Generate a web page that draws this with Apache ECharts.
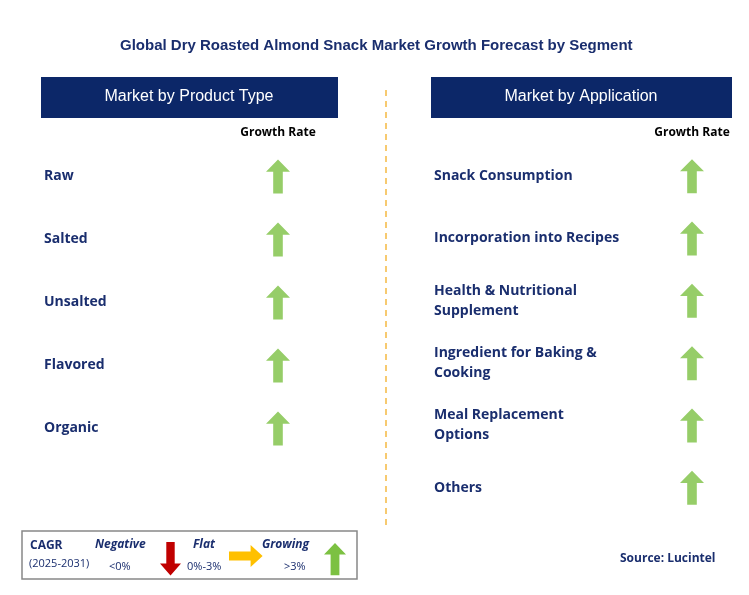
<!DOCTYPE html>
<html><head><meta charset="utf-8">
<script src="https://cdn.jsdelivr.net/npm/echarts@6/dist/echarts.min.js"></script>
<style>html,body{margin:0;padding:0;background:#fff}#c{width:749px;height:595px}</style>
</head><body><div id="c"></div>
<script>
const productTypes = ['Raw','Salted','Unsalted','Flavored','Organic'];
const productTrend = ['Growing','Growing','Growing','Growing','Growing'];
const applications = ['Snack Consumption','Incorporation into Recipes','Health & Nutritional\nSupplement','Ingredient for Baking &\nCooking','Meal Replacement\nOptions','Others'];
const applicationTrend = ['Growing','Growing','Growing','Growing','Growing','Growing'];
const columnLabel = ['Growth Rate'];

const NAVY = '#0c2768', TXT = '#1a2e6e', GREEN = '#7cc142';
const up = 'path://M5,0 L10,5 L7,5 L7,14 L3,14 L3,5 L0,5 Z';
const down = 'path://M3,0 L7,0 L7,9 L10,9 L5,14 L0,9 L3,9 Z';
const right = 'path://M0,3 L9,3 L9,0 L14,5 L9,10 L9,7 L0,7 Z';
const sym = {Growing: up, Negative: down, Flat: right};
const col = {Growing: GREEN, Negative: '#c00000', Flat: '#ffc000'};

function yAx(idx, cats, margin){
  return {gridIndex: idx, type:'category', data:cats, inverse:true,
    axisLine:{show:false}, axisTick:{show:false}, splitLine:{show:false},
    axisLabel:{margin:margin, align:'left', color:TXT, fontSize:14, fontWeight:'bold', fontFamily:'Open Sans', lineHeight:20}};
}
function xAx(idx){
  return {gridIndex: idx, type:'category', data:columnLabel, position:'top',
    axisLine:{show:false}, axisTick:{show:false},
    axisLabel:{margin:6, color:'#000', fontSize:12, fontWeight:'bold', fontFamily:'Open Sans'}};
}
function ser(idx, cats, trend){
  return {type:'scatter', xAxisIndex:idx, yAxisIndex:idx, symbolSize:[24,34],
    data: cats.map((c,i)=>({value:[columnLabel[0], c], symbol: sym[trend[i]], itemStyle:{color: col[trend[i]]}}))};
}
// legend arrow shapes scaled from unit paths
function poly(pts, x, y, sx, sy, fill){
  return {type:'polygon', shape:{points: pts.map(p=>[x+p[0]*sx, y+p[1]*sy])}, style:{fill}};
}
const upPts=[[5,0],[10,5],[7,5],[7,14],[3,14],[3,5],[0,5]];
const downPts=[[3,0],[7,0],[7,9],[10,9],[5,14],[0,9],[3,9]];
const rightPts=[[0,3],[9,3],[9,0],[14,5],[9,10],[9,7],[0,7]];

const chart = echarts.init(document.getElementById('c'));
chart.setOption({
  animation:false,
  title:{text:'Global Dry Roasted Almond Snack Market Growth Forecast by Segment', left:115, top:33,
    textStyle:{color:TXT, fontSize:15, fontWeight:'bold', fontFamily:'Arial'}},
  grid:[{left:248, width:60, top:145, height:315},{left:662, width:60, top:145, height:374}],
  xAxis:[xAx(0), xAx(1)],
  yAxis:[yAx(0, productTypes, 204), yAx(1, applications, 228)],
  series:[ser(0, productTypes, productTrend), ser(1, applications, applicationTrend)],
  graphic:[
    {type:'rect', shape:{x:41,y:77,width:297,height:41}, style:{fill:NAVY}},
    {type:'text', x:189, y:97, style:{text:'Market by Product Type', fill:'#fff', font:'16px Arial', align:'center', verticalAlign:'middle'}},
    {type:'rect', shape:{x:431,y:77,width:301,height:41}, style:{fill:NAVY}},
    {type:'text', x:581, y:97, style:{text:'Market by Application', fill:'#fff', font:'16px Arial', align:'center', verticalAlign:'middle'}},
    {type:'line', shape:{x1:386,y1:90,x2:386,y2:525}, style:{stroke:'#f5b942', lineWidth:1.5, lineDash:[6,5]}},
    {type:'rect', shape:{x:22,y:531,width:335,height:48}, style:{fill:'#fff', stroke:'#888', lineWidth:1.5}},
    {type:'text', x:30, y:540, style:{text:'CAGR', fill:TXT, font:'bold 12px Open Sans'}},
    {type:'text', x:29, y:558, style:{text:'(2025-2031)', fill:TXT, font:'11px Open Sans'}},
    {type:'text', x:95, y:539, style:{text:'Negative', fill:TXT, font:'italic bold 12px Open Sans'}},
    {type:'text', x:109, y:561, style:{text:'<0%', fill:TXT, font:'11px Open Sans'}},
    poly(downPts, 160, 542, 2.1, 2.4, '#c00000'),
    {type:'text', x:193, y:539, style:{text:'Flat', fill:TXT, font:'italic bold 12px Open Sans'}},
    {type:'text', x:187, y:561, style:{text:'0%-3%', fill:TXT, font:'11px Open Sans'}},
    poly(rightPts, 229, 545, 2.4, 2.2, '#ffc000'),
    {type:'text', x:262, y:539, style:{text:'Growing', fill:TXT, font:'italic bold 12px Open Sans'}},
    {type:'text', x:284, y:561, style:{text:'>3%', fill:TXT, font:'11px Open Sans'}},
    poly(upPts, 324, 543, 2.2, 2.3, GREEN),
    {type:'text', x:620, y:553, style:{text:'Source: Lucintel', fill:TXT, font:'bold 12px Open Sans'}}
  ]
});
</script></body></html>
